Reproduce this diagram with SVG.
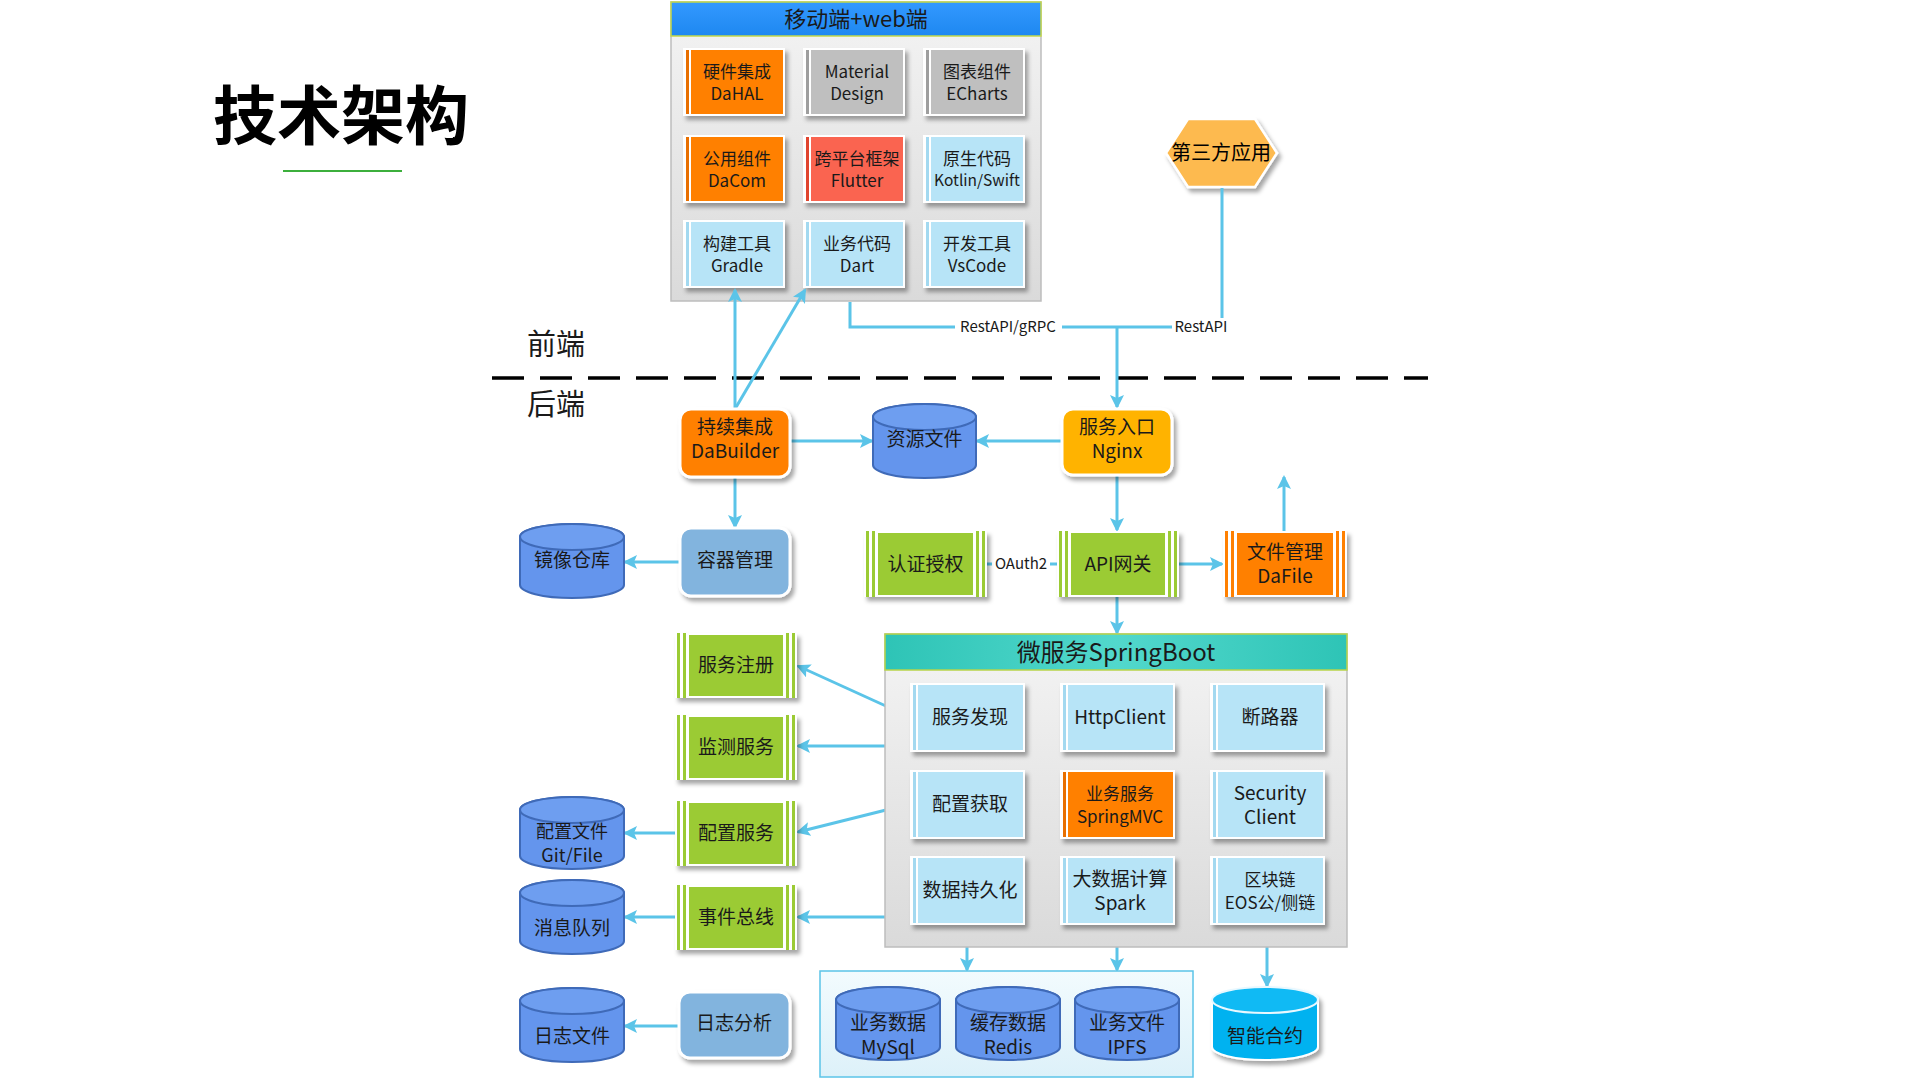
<svg xmlns="http://www.w3.org/2000/svg" width="1920" height="1080" viewBox="0 0 1920 1080">
<defs>
<style>
text{font-family:"Noto Sans CJK SC","Noto Sans",sans-serif;fill:#1a1a1a;text-anchor:middle}
.t17{font-size:17px}
.t19{font-size:19px}
.t18{font-size:18px}
.lbl{font-size:15px}
.cn{fill:none;stroke:#5BC4E8;stroke-width:3}
.ar{marker-end:url(#ah)}
.tw{fill:#fff;filter:url(#sh)}
.o{fill:#FF8000}.os{fill:#E86F00}
.g{fill:#BFBFBF}.gs{fill:#9E9E9E}
.r{fill:#FA6450}.rs{fill:#E0442E}
.b{fill:#B7E4F7}.bs{fill:#A3D9F0}
.gr{fill:#9BCB34}
.cyl{fill:#6495ED;stroke:#3F6AB8;stroke-width:2}
.cylt{fill:#6E9EF0;stroke:#3F6AB8;stroke-width:2}
.rb{stroke:#fff;stroke-width:3;filter:url(#sh)}
</style>
<filter id="sh" x="-20%" y="-20%" width="150%" height="150%">
<feDropShadow dx="3" dy="4" stdDeviation="2" flood-color="#000" flood-opacity="0.35"/>
</filter>
<marker id="ah" markerUnits="userSpaceOnUse" markerWidth="14" markerHeight="14" refX="12" refY="7" orient="auto">
<path d="M0,0 L14,7 L0,14 L3,7 z" fill="#5BC4E8"/>
</marker>
<linearGradient id="gPanel" x1="0" y1="0" x2="0" y2="1">
<stop offset="0" stop-color="#F4F4F4"/><stop offset="1" stop-color="#DADADA"/>
</linearGradient>
<linearGradient id="gBlue" x1="0" y1="0" x2="0" y2="1">
<stop offset="0" stop-color="#3399FF"/><stop offset="1" stop-color="#1E88F0"/>
</linearGradient>
<linearGradient id="gTeal" x1="0" y1="0" x2="1" y2="0">
<stop offset="0" stop-color="#2EC4B6"/><stop offset="0.5" stop-color="#52D8CC"/><stop offset="1" stop-color="#2EC4B6"/>
</linearGradient>
<linearGradient id="gGroup" x1="0" y1="0" x2="0" y2="1">
<stop offset="0" stop-color="#F2FBFE"/><stop offset="1" stop-color="#DDF1F9"/>
</linearGradient>
</defs>
<rect width="1920" height="1080" fill="#fff"/>

<g id="title">
<text x="341" y="139" style="font-size:64px;font-weight:700;fill:#000">技术架构</text>
<line x1="283" y1="171" x2="402" y2="171" stroke="#3CAF3C" stroke-width="2"/>
</g>

<g id="divider">
<line x1="492" y1="378" x2="1428" y2="378" stroke="#000" stroke-width="3.5" stroke-dasharray="32 16"/>
<text x="556" y="355" style="font-size:29px">前端</text>
<text x="556" y="415" style="font-size:29px">后端</text>
</g>

<g id="frontend">
<rect x="671" y="2" width="370" height="299" fill="url(#gPanel)" stroke="#BDBDBD" stroke-width="1.5"/>
<rect x="671" y="2" width="370" height="34" fill="url(#gBlue)" stroke="#C4D84A" stroke-width="1.5"/>
<text x="856" y="27" style="font-size:22px">移动端+web端</text>
</g>

<g id="fe-dahal" transform="translate(683,48)"><rect class="tw" width="102" height="68"/><rect class="os" x="3" y="2" width="3" height="64"/><rect class="o" x="8" y="2" width="92" height="64"/><text class="t17" x="54" y="30">硬件集成</text><text class="t17" x="54" y="52">DaHAL</text></g>
<g id="fe-material" transform="translate(803,48)"><rect class="tw" width="102" height="68"/><rect class="gs" x="3" y="2" width="3" height="64"/><rect class="g" x="8" y="2" width="92" height="64"/><text class="t17" x="54" y="30">Material</text><text class="t17" x="54" y="52">Design</text></g>
<g id="fe-echarts" transform="translate(923,48)"><rect class="tw" width="102" height="68"/><rect class="gs" x="3" y="2" width="3" height="64"/><rect class="g" x="8" y="2" width="92" height="64"/><text class="t17" x="54" y="30">图表组件</text><text class="t17" x="54" y="52">ECharts</text></g>
<g id="fe-dacom" transform="translate(683,135)"><rect class="tw" width="102" height="68"/><rect class="os" x="3" y="2" width="3" height="64"/><rect class="o" x="8" y="2" width="92" height="64"/><text class="t17" x="54" y="30">公用组件</text><text class="t17" x="54" y="52">DaCom</text></g>
<g id="fe-flutter" transform="translate(803,135)"><rect class="tw" width="102" height="68"/><rect class="rs" x="3" y="2" width="3" height="64"/><rect class="r" x="8" y="2" width="92" height="64"/><text class="t17" x="54" y="30">跨平台框架</text><text class="t17" x="54" y="52">Flutter</text></g>
<g id="fe-native" transform="translate(923,135)"><rect class="tw" width="102" height="68"/><rect class="bs" x="3" y="2" width="3" height="64"/><rect class="b" x="8" y="2" width="92" height="64"/><text class="t17" x="54" y="30">原生代码</text><text x="54" y="51" style="font-size:15.5px">Kotlin/Swift</text></g>
<g id="fe-gradle" transform="translate(683,220)"><rect class="tw" width="102" height="68"/><rect class="bs" x="3" y="2" width="3" height="64"/><rect class="b" x="8" y="2" width="92" height="64"/><text class="t17" x="54" y="30">构建工具</text><text class="t17" x="54" y="52">Gradle</text></g>
<g id="fe-dart" transform="translate(803,220)"><rect class="tw" width="102" height="68"/><rect class="bs" x="3" y="2" width="3" height="64"/><rect class="b" x="8" y="2" width="92" height="64"/><text class="t17" x="54" y="30">业务代码</text><text class="t17" x="54" y="52">Dart</text></g>
<g id="fe-vscode" transform="translate(923,220)"><rect class="tw" width="102" height="68"/><rect class="bs" x="3" y="2" width="3" height="64"/><rect class="b" x="8" y="2" width="92" height="64"/><text class="t17" x="54" y="30">开发工具</text><text class="t17" x="54" y="52">VsCode</text></g>

<g id="third-party">
<polygon points="1166,153 1188,119 1255,119 1277,153 1255,187 1188,187" fill="#FDBA50" stroke="#fff" stroke-width="2.5" filter="url(#sh)"/>
<text x="1221" y="160" style="font-size:20px;fill:#000">第三方应用</text>
</g>

<g id="connectors">
<polyline class="cn" points="850,302 850,327 1222,327 1222,188"/>
<line class="cn ar" x1="1117" y1="327" x2="1117" y2="407"/>
<line class="cn ar" x1="735" y1="409" x2="735" y2="290"/>
<line class="cn ar" x1="735" y1="409" x2="805" y2="290"/>
<line class="cn ar" x1="790" y1="441" x2="872" y2="441"/>
<line class="cn ar" x1="1062" y1="441" x2="977" y2="441"/>
<line class="cn ar" x1="735" y1="477" x2="735" y2="527"/>
<line class="cn ar" x1="680" y1="562" x2="625" y2="562"/>
<line class="cn ar" x1="1117" y1="475" x2="1117" y2="530"/>
<line class="cn" x1="987" y1="564" x2="1057" y2="564"/>
<line class="cn ar" x1="1179" y1="564" x2="1222" y2="564"/>
<line class="cn ar" x1="1284" y1="531" x2="1284" y2="477"/>
<line class="cn ar" x1="1117" y1="597" x2="1117" y2="633"/>
<line class="cn ar" x1="910" y1="717" x2="798" y2="666"/>
<line class="cn ar" x1="885" y1="746" x2="798" y2="746"/>
<line class="cn ar" x1="910" y1="804" x2="798" y2="832"/>
<line class="cn ar" x1="885" y1="917" x2="798" y2="917"/>
<line class="cn ar" x1="675" y1="833" x2="625" y2="833"/>
<line class="cn ar" x1="675" y1="917" x2="625" y2="917"/>
<line class="cn ar" x1="679" y1="1026" x2="625" y2="1026"/>
<line class="cn ar" x1="967" y1="925" x2="967" y2="970"/>
<line class="cn ar" x1="1117" y1="925" x2="1117" y2="970"/>
<line class="cn ar" x1="1267" y1="925" x2="1267" y2="986"/>
<rect x="955" y="318" width="107" height="18" fill="#fff"/>
<text class="lbl" x="1008" y="332">RestAPI/gRPC</text>
<rect x="1172" y="318" width="58" height="18" fill="#fff"/>
<text class="lbl" x="1201" y="332">RestAPI</text>
<rect x="992" y="556" width="58" height="16" fill="#fff"/>
<text class="lbl" x="1021" y="569">OAuth2</text>
</g>

<g id="dabuilder"><rect class="rb" x="680" y="409" width="110" height="68" rx="11" fill="#FF8000"/><text class="t19" x="735" y="434">持续集成</text><text class="t19" x="735" y="458">DaBuilder</text></g>
<g id="nginx"><rect class="rb" x="1062" y="409" width="110" height="66" rx="11" fill="#FFB300"/><text class="t19" x="1117" y="434">服务入口</text><text class="t19" x="1117" y="458">Nginx</text></g>
<g id="container"><rect class="rb" x="680" y="528" width="110" height="68" rx="11" fill="#82B4DE"/><text class="t19" x="735" y="567">容器管理</text></g>
<g id="log-analysis"><rect class="rb" x="679" y="992" width="111" height="66" rx="11" fill="#82B4DE"/><text class="t19" x="734" y="1030">日志分析</text></g>

<g id="res-files"><path class="cyl" d="M873,417 A51.5,13 0 0 1 976,417 V465 A51.5,13 0 0 1 873,465 Z"/><ellipse class="cylt" cx="924.5" cy="417" rx="51.5" ry="13"/><text class="t19" x="924.5" y="446">资源文件</text></g>
<g id="image-repo"><path class="cyl" d="M520,537 A52,13 0 0 1 624,537 V585 A52,13 0 0 1 520,585 Z"/><ellipse class="cylt" cx="572" cy="537" rx="52" ry="13"/><text class="t19" x="572" y="567">镜像仓库</text></g>
<g id="config-files"><path class="cyl" d="M520,810 A52,13 0 0 1 624,810 V856 A52,13 0 0 1 520,856 Z"/><ellipse class="cylt" cx="572" cy="810" rx="52" ry="13"/><text class="t18" x="572" y="838">配置文件</text><text class="t18" x="572" y="862">Git/File</text></g>
<g id="mq"><path class="cyl" d="M520,893 A52,13 0 0 1 624,893 V941 A52,13 0 0 1 520,941 Z"/><ellipse class="cylt" cx="572" cy="893" rx="52" ry="13"/><text class="t19" x="572" y="935">消息队列</text></g>
<g id="log-files"><path class="cyl" d="M520,1001 A52,13 0 0 1 624,1001 V1049 A52,13 0 0 1 520,1049 Z"/><ellipse class="cylt" cx="572" cy="1001" rx="52" ry="13"/><text class="t19" x="572" y="1043">日志文件</text></g>

<g id="auth" transform="translate(864,531)"><rect class="tw" width="123" height="66"/><rect class="gr" x="2" y="0" width="3" height="66"/><rect class="gr" x="8" y="0" width="3" height="66"/><rect class="gr" x="14" y="2" width="95" height="62"/><rect class="gr" x="112" y="0" width="3" height="66"/><rect class="gr" x="118" y="0" width="3" height="66"/><text class="t19" x="61.5" y="40">认证授权</text></g>
<g id="gateway" transform="translate(1057,531)"><rect class="tw" width="122" height="66"/><rect class="gr" x="2" y="0" width="3" height="66"/><rect class="gr" x="8" y="0" width="3" height="66"/><rect class="gr" x="14" y="2" width="94" height="62"/><rect class="gr" x="111" y="0" width="3" height="66"/><rect class="gr" x="117" y="0" width="3" height="66"/><text class="t19" x="61" y="40">API网关</text></g>
<g id="dafile" transform="translate(1223,531)"><rect class="tw" width="124" height="66"/><rect class="o" x="2" y="0" width="3" height="66"/><rect class="o" x="8" y="0" width="3" height="66"/><rect class="o" x="14" y="2" width="96" height="62"/><rect class="o" x="113" y="0" width="3" height="66"/><rect class="o" x="119" y="0" width="3" height="66"/><text class="t19" x="62" y="28">文件管理</text><text class="t19" x="62" y="52">DaFile</text></g>

<g id="svc-register" transform="translate(675,633)"><rect class="tw" width="122" height="65"/><rect class="gr" x="2" y="0" width="3" height="65"/><rect class="gr" x="8" y="0" width="3" height="65"/><rect class="gr" x="14" y="2" width="94" height="61"/><rect class="gr" x="111" y="0" width="3" height="65"/><rect class="gr" x="117" y="0" width="3" height="65"/><text class="t19" x="61" y="39">服务注册</text></g>
<g id="monitor" transform="translate(675,715)"><rect class="tw" width="122" height="65"/><rect class="gr" x="2" y="0" width="3" height="65"/><rect class="gr" x="8" y="0" width="3" height="65"/><rect class="gr" x="14" y="2" width="94" height="61"/><rect class="gr" x="111" y="0" width="3" height="65"/><rect class="gr" x="117" y="0" width="3" height="65"/><text class="t19" x="61" y="39">监测服务</text></g>
<g id="config-svc" transform="translate(675,801)"><rect class="tw" width="122" height="65"/><rect class="gr" x="2" y="0" width="3" height="65"/><rect class="gr" x="8" y="0" width="3" height="65"/><rect class="gr" x="14" y="2" width="94" height="61"/><rect class="gr" x="111" y="0" width="3" height="65"/><rect class="gr" x="117" y="0" width="3" height="65"/><text class="t19" x="61" y="39">配置服务</text></g>
<g id="event-bus" transform="translate(675,885)"><rect class="tw" width="122" height="65"/><rect class="gr" x="2" y="0" width="3" height="65"/><rect class="gr" x="8" y="0" width="3" height="65"/><rect class="gr" x="14" y="2" width="94" height="61"/><rect class="gr" x="111" y="0" width="3" height="65"/><rect class="gr" x="117" y="0" width="3" height="65"/><text class="t19" x="61" y="39">事件总线</text></g>

<g id="microservice">
<rect x="885" y="634" width="462" height="313" fill="url(#gPanel)" stroke="#BDBDBD" stroke-width="1.5"/>
<rect x="885" y="634" width="462" height="36" fill="url(#gTeal)" stroke="#B8D44A" stroke-width="1.5"/>
<text x="1116" y="661" style="font-size:24px">微服务SpringBoot</text>
</g>
<g id="ms-discovery" transform="translate(910,683)"><rect class="tw" width="115" height="69"/><rect class="bs" x="3" y="2" width="3" height="65"/><rect class="b" x="8" y="2" width="105" height="65"/><text class="t19" x="60" y="41">服务发现</text></g>
<g id="ms-httpclient" transform="translate(1060,683)"><rect class="tw" width="115" height="69"/><rect class="bs" x="3" y="2" width="3" height="65"/><rect class="b" x="8" y="2" width="105" height="65"/><text class="t19" x="60" y="41">HttpClient</text></g>
<g id="ms-breaker" transform="translate(1210,683)"><rect class="tw" width="115" height="69"/><rect class="bs" x="3" y="2" width="3" height="65"/><rect class="b" x="8" y="2" width="105" height="65"/><text class="t19" x="60" y="41">断路器</text></g>
<g id="ms-config" transform="translate(910,770)"><rect class="tw" width="115" height="69"/><rect class="bs" x="3" y="2" width="3" height="65"/><rect class="b" x="8" y="2" width="105" height="65"/><text class="t19" x="60" y="41">配置获取</text></g>
<g id="ms-springmvc" transform="translate(1060,770)"><rect class="tw" width="115" height="69"/><rect class="os" x="3" y="2" width="3" height="65"/><rect class="o" x="8" y="2" width="105" height="65"/><text class="t17" x="60" y="30">业务服务</text><text class="t17" x="60" y="53">SpringMVC</text></g>
<g id="ms-security" transform="translate(1210,770)"><rect class="tw" width="115" height="69"/><rect class="bs" x="3" y="2" width="3" height="65"/><rect class="b" x="8" y="2" width="105" height="65"/><text class="t19" x="60" y="30">Security</text><text class="t19" x="60" y="54">Client</text></g>
<g id="ms-persist" transform="translate(910,856)"><rect class="tw" width="115" height="69"/><rect class="bs" x="3" y="2" width="3" height="65"/><rect class="b" x="8" y="2" width="105" height="65"/><text class="t19" x="60" y="41">数据持久化</text></g>
<g id="ms-spark" transform="translate(1060,856)"><rect class="tw" width="115" height="69"/><rect class="bs" x="3" y="2" width="3" height="65"/><rect class="b" x="8" y="2" width="105" height="65"/><text class="t19" x="60" y="30">大数据计算</text><text class="t19" x="60" y="54">Spark</text></g>
<g id="ms-blockchain" transform="translate(1210,856)"><rect class="tw" width="115" height="69"/><rect class="bs" x="3" y="2" width="3" height="65"/><rect class="b" x="8" y="2" width="105" height="65"/><text class="t17" x="60" y="30">区块链</text><text class="t17" x="60" y="53">EOS公/侧链</text></g>

<g id="storage-group"><rect x="820" y="971" width="373" height="106" fill="url(#gGroup)" stroke="#5BC4E8" stroke-width="1.5"/></g>
<g id="mysql"><path class="cyl" d="M836,1000 A52,13 0 0 1 940,1000 V1047 A52,13 0 0 1 836,1047 Z"/><ellipse class="cylt" cx="888" cy="1000" rx="52" ry="13"/><text class="t19" x="888" y="1030">业务数据</text><text class="t19" x="888" y="1054">MySql</text></g>
<g id="redis"><path class="cyl" d="M956,1000 A52,13 0 0 1 1060,1000 V1047 A52,13 0 0 1 956,1047 Z"/><ellipse class="cylt" cx="1008" cy="1000" rx="52" ry="13"/><text class="t19" x="1008" y="1030">缓存数据</text><text class="t19" x="1008" y="1054">Redis</text></g>
<g id="ipfs"><path class="cyl" d="M1075,1000 A52,13 0 0 1 1179,1000 V1047 A52,13 0 0 1 1075,1047 Z"/><ellipse class="cylt" cx="1127" cy="1000" rx="52" ry="13"/><text class="t19" x="1127" y="1030">业务文件</text><text class="t19" x="1127" y="1054">IPFS</text></g>
<g id="smart-contract"><path d="M1212,1000 A53,13 0 0 1 1318,1000 V1047 A53,13 0 0 1 1212,1047 Z" fill="#00B2F0" stroke="#fff" stroke-width="2" filter="url(#sh)"/><ellipse cx="1265" cy="1000" rx="53" ry="13" fill="#10BAF4" stroke="#E8F8FF" stroke-width="2"/><text class="t19" x="1265" y="1043">智能合约</text></g>
</svg>
